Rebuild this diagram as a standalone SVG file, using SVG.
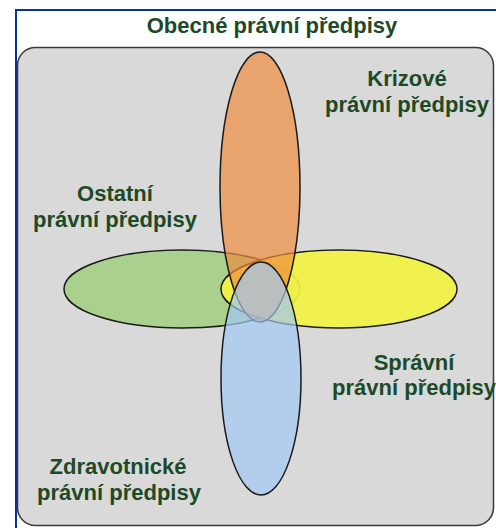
<svg xmlns="http://www.w3.org/2000/svg" width="496" height="528" viewBox="0 0 496 528">
<style>
.lbl{font-family:"Liberation Sans",Arial,sans-serif;font-weight:bold;font-size:22px;fill:#1d4a26;text-anchor:middle}
.ell{stroke:#1a1a1a;stroke-width:1.5}
</style>
<rect x="0" y="0" width="496" height="528" fill="#ffffff"/>
<g id="frame">
<rect x="16" y="10" width="492" height="530" fill="#ffffff" stroke="#0a3399" stroke-width="2"/>
<text class="lbl" x="272" y="33">Obecné právní předpisy</text>
</g>
<g id="general">
<rect x="17.5" y="47.5" width="476" height="478" rx="18" ry="18" fill="#d9d9d9" stroke="#3a3a3a" stroke-width="1.5"/>
</g>
<g id="ostatni">
<ellipse class="ell" cx="182" cy="289" rx="118" ry="39" fill="#a9d08c"/>
</g>
<g id="spravni">
<ellipse class="ell" cx="339" cy="289" rx="118" ry="39" fill="#f2f242" fill-opacity="0.92"/>
</g>
<g id="krizove">
<ellipse class="ell" cx="260" cy="187" rx="40" ry="135" fill="#ef8c3d" fill-opacity="0.7"/>
</g>
<g id="zdravotnicke">
<ellipse class="ell" cx="261" cy="378.5" rx="40" ry="116.5" fill="#a3c8f4" fill-opacity="0.7"/>
</g>
<g id="labels">
<text class="lbl" x="407" y="86">Krizové</text>
<text class="lbl" x="407" y="112">právní předpisy</text>
<text class="lbl" x="115" y="201">Ostatní</text>
<text class="lbl" x="115" y="227">právní předpisy</text>
<text class="lbl" x="414" y="370">Správní</text>
<text class="lbl" x="414" y="395">právní předpisy</text>
<text class="lbl" x="118" y="474">Zdravotnické</text>
<text class="lbl" x="119" y="500">právní předpisy</text>
</g>
</svg>
